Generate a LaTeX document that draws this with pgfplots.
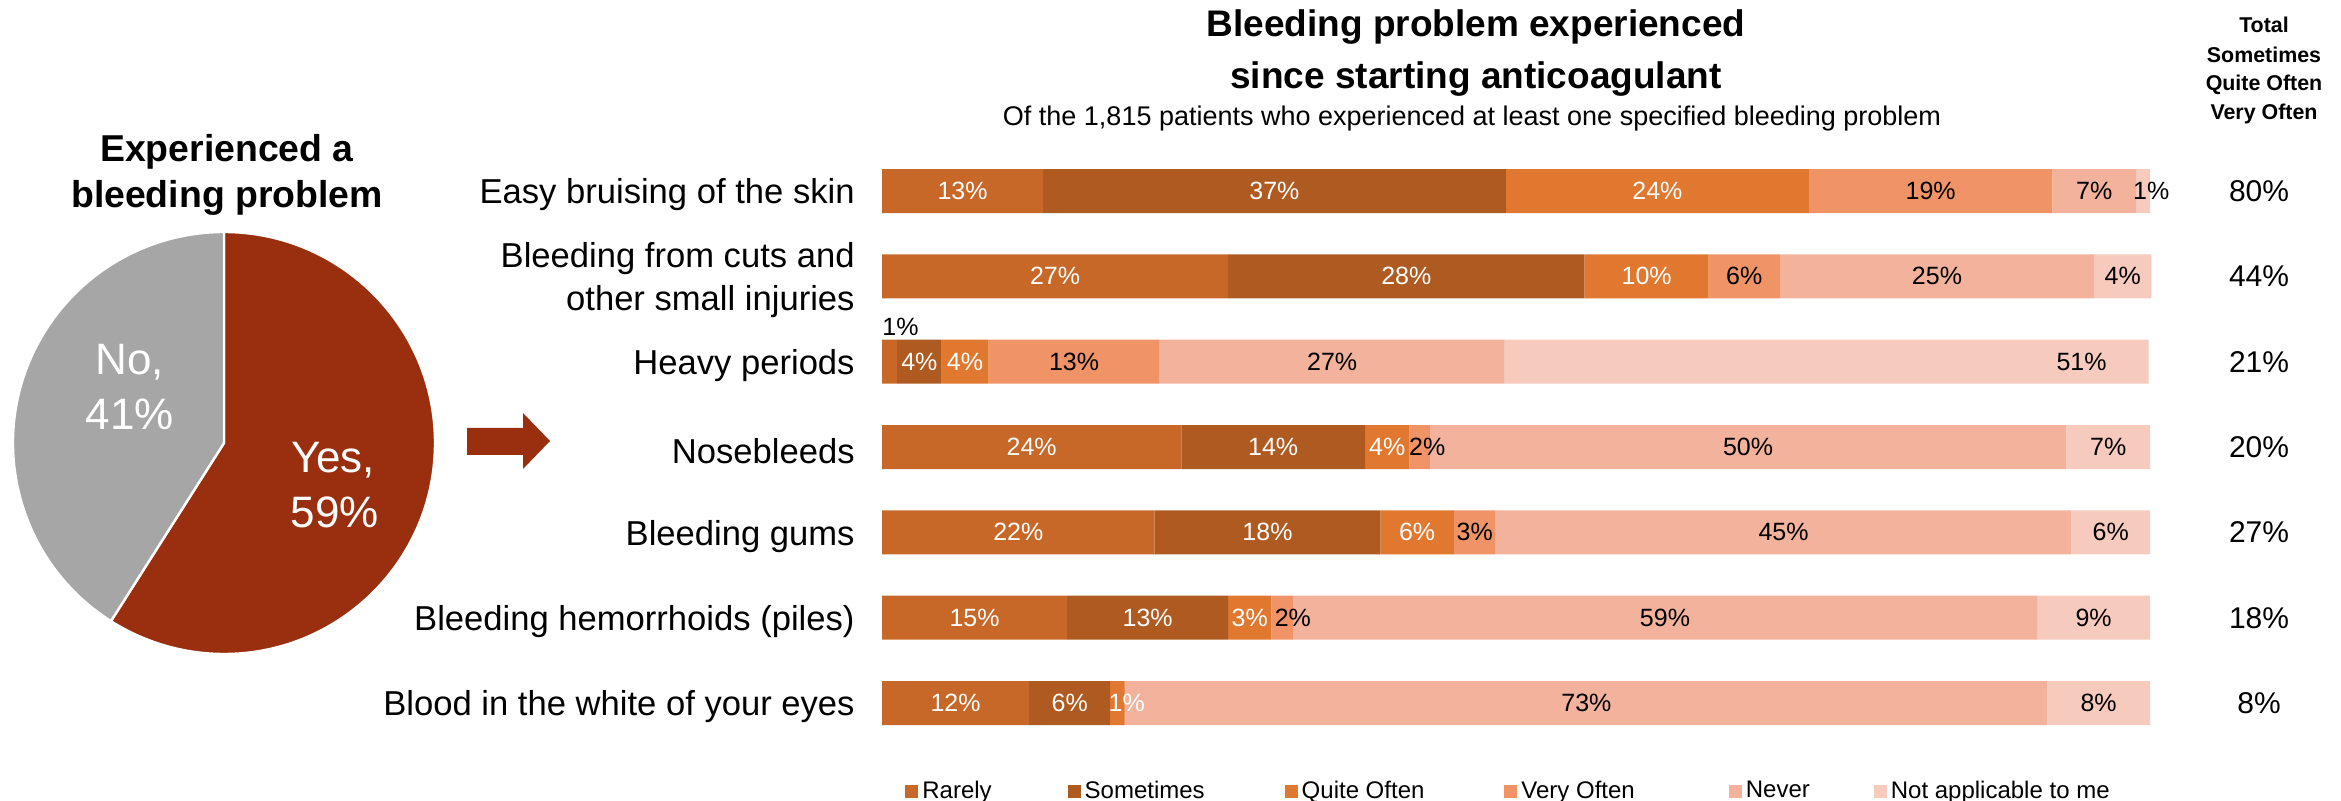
\documentclass[border=0pt]{standalone}
\usepackage{pgfplots}
\pgfplotsset{compat=1.18}
\usepackage{fontspec}
\setmainfont{Liberation Sans}
\definecolor{cRarely}{RGB}{200,104,40}
\definecolor{cSome}{RGB}{175,90,32}
\definecolor{cQuite}{RGB}{224,120,48}
\definecolor{cVery}{RGB}{240,148,104}
\definecolor{cNever}{RGB}{242,178,156}
\definecolor{cNA}{RGB}{246,203,190}
\definecolor{cYes}{RGB}{154,47,15}
\definecolor{cNo}{RGB}{166,166,166}
\newcommand{\fs}[1]{\fontsize{#1}{#1}\selectfont}
\pgfplotsset{barframe/.style={at={(441pt,-74.17pt)}, anchor=north west, scale only axis,
  width=634pt, height=298.67pt,
  xmin=0, xmax=100, ymin=0.5, ymax=7.5, y dir=reverse,
  axis line style={draw=none}, major tick length=0pt, clip=false}}
\begin{document}
\begin{tikzpicture}
\useasboundingbox (0pt,0pt) rectangle (1170.5pt,-400.5pt);
% ---------- pie ----------
\def\yesval{59}
\def\noval{41}
\begin{axis}[at={(112pt,-221.5pt)}, anchor=center, scale only axis,
  width=211pt, height=211pt, xmin=-1, xmax=1, ymin=-1, ymax=1,
  hide axis, clip=false]
\filldraw[fill=cYes, draw=white, line width=1.2pt] (axis cs:0,0) -- ++(90:105.5pt)
  arc[start angle=90, delta angle={-3.6*\yesval}, radius=105.5pt] -- cycle;
\filldraw[fill=cNo, draw=white, line width=1.2pt] (axis cs:0,0) -- ++({90-3.6*\yesval}:105.5pt)
  arc[start angle={90-3.6*\yesval}, delta angle={-3.6*\noval}, radius=105.5pt] -- cycle;
\end{axis}
\node[anchor=base, inner sep=0pt, font=\fs{18.7}\bfseries] at (113.5pt,-81pt) {Experienced a};
\node[anchor=base, inner sep=0pt, font=\fs{18.7}\bfseries] at (113.5pt,-103.75pt) {bleeding problem};
\node[anchor=base, inner sep=0pt, font=\fs{22}, text=white] at (65pt,-187.5pt) {No,};
\node[anchor=base, inner sep=0pt, font=\fs{22}, text=white] at (65pt,-215pt) {41\%};
\node[anchor=base, inner sep=0pt, font=\fs{22}, text=white] at (166.5pt,-236.5pt) {Yes,};
\node[anchor=base, inner sep=0pt, font=\fs{22}, text=white] at (167.5pt,-264pt) {59\%};
% arrow
\fill[cYes] (233.5pt,-214pt) -- (261.5pt,-214pt) -- (261.5pt,-206.5pt) -- (275pt,-220.5pt)
  -- (261.5pt,-234.5pt) -- (261.5pt,-227.5pt) -- (233.5pt,-227.5pt) -- cycle;
% titles
\node[anchor=base, inner sep=0pt, font=\fs{18.5}\bfseries] at (738pt,-18.4pt) {Bleeding problem experienced};
\node[anchor=base, inner sep=0pt, font=\fs{18.5}\bfseries] at (738pt,-44.5pt) {since starting anticoagulant};
\node[anchor=base, inner sep=0pt, font=\fs{13.5}] at (736pt,-63pt) {Of the 1,815 patients who experienced at least one specified bleeding problem};
\node[anchor=base, inner sep=0pt, font=\fs{10.7}\bfseries] at (1132pt,-16.5pt) {Total};
\node[anchor=base, inner sep=0pt, font=\fs{10.7}\bfseries] at (1132pt,-31.5pt) {Sometimes};
\node[anchor=base, inner sep=0pt, font=\fs{10.7}\bfseries] at (1132pt,-45.5pt) {Quite Often};
\node[anchor=base, inner sep=0pt, font=\fs{10.7}\bfseries] at (1132pt,-60pt) {Very Often};
% ---------- bars ----------
\begin{axis}[barframe,
  xbar stacked, bar width=22pt,
  xtick=\empty, ytick={1,2,3,4,5,6,7},
  yticklabels={Easy bruising of the skin, {Bleeding from cuts and\\other small injuries}, Heavy periods, Nosebleeds, Bleeding gums, Bleeding hemorrhoids (piles), Blood in the white of your eyes},
  yticklabel style={align=right, font=\fontsize{17.3}{21.5}\selectfont, inner sep=0pt, xshift=-13.5pt, yshift=-2pt},
  legend columns=6,
  legend image code/.code={\fill[#1] (0pt,-3.25pt) rectangle (6.5pt,3.25pt);},
  legend style={draw=none, fill=none, at={(0.0181,-0.076)}, anchor=west,
     font=\fs{12}, inner sep=0pt, cells={anchor=west},
     /tikz/column 2/.style={column sep=36pt},
     /tikz/column 4/.style={column sep=38pt},
     /tikz/column 6/.style={column sep=38pt},
     /tikz/column 8/.style={column sep=45pt},
     /tikz/column 10/.style={column sep=30pt}},
]
\addplot[fill=cRarely, draw=none] coordinates {(12.7,1) (27.3,2) (1.2,3) (23.6,4) (21.5,5) (14.6,6) (11.6,7)};
\addlegendentry{Rarely}
\addplot[fill=cSome, draw=none] coordinates {(36.5,1) (28.1,2) (3.5,3) (14.5,4) (17.8,5) (12.7,6) (6.4,7)};
\addlegendentry{Sometimes}
\addplot[fill=cQuite, draw=none] coordinates {(23.9,1) (9.8,2) (3.7,3) (3.5,4) (5.8,5) (3.4,6) (1.1,7)};
\addlegendentry{Quite Often}
\addplot[fill=cVery, draw=none] coordinates {(19.2,1) (5.6,2) (13.5,3) (1.6,4) (3.3,5) (1.7,6) (0.1,7)};
\addlegendentry{Very Often}
\addplot[fill=cNever, draw=none] coordinates {(6.6,1) (24.8,2) (27.2,3) (50.2,4) (45.4,5) (58.7,6) (72.7,7)};
\addlegendentry{Never}
\addplot[fill=cNA, draw=none] coordinates {(1.1,1) (4.5,2) (50.8,3) (6.6,4) (6.2,5) (8.9,6) (8.1,7)};
\addlegendentry{Not applicable to me}
\end{axis}
% ---------- segment labels (centres of the segments) ----------
\begin{axis}[barframe, hide axis,
  point meta=explicit symbolic, nodes near coords,
  every node near coord/.append style={font=\fs{12.5}, anchor=center, inner sep=0pt, yshift=0pt}]
\addplot[draw=none, mark=none, every node near coord/.append style={text=white}] coordinates
 {(6.35,1)[13\%] (13.65,2)[27\%] (11.8,4)[24\%] (10.75,5)[22\%] (7.3,6)[15\%] (5.8,7)[12\%]};
\addplot[draw=none, mark=none, every node near coord/.append style={text=white}] coordinates
 {(30.95,1)[37\%] (41.35,2)[28\%] (2.95,3)[4\%] (30.85,4)[14\%] (30.4,5)[18\%] (20.95,6)[13\%] (14.8,7)[6\%]};
\addplot[draw=none, mark=none, every node near coord/.append style={text=white}] coordinates
 {(61.15,1)[24\%] (60.3,2)[10\%] (6.55,3)[4\%] (39.85,4)[4\%] (42.2,5)[6\%] (29.0,6)[3\%] (19.3,7)[1\%]};
\addplot[draw=none, mark=none, every node near coord/.append style={text=black}] coordinates
 {(82.7,1)[19\%] (68.0,2)[6\%] (15.15,3)[13\%] (43.0,4)[2\%] (46.75,5)[3\%] (32.4,6)[2\%]};
\addplot[draw=none, mark=none, every node near coord/.append style={text=black}] coordinates
 {(95.6,1)[7\%] (83.2,2)[25\%] (35.5,3)[27\%] (68.3,4)[50\%] (71.1,5)[45\%] (61.75,6)[59\%] (55.55,7)[73\%]};
\addplot[draw=none, mark=none, every node near coord/.append style={text=black}] coordinates
 {(100.1,1)[1\%] (97.85,2)[4\%] (94.6,3)[51\%] (96.7,4)[7\%] (96.9,5)[6\%] (95.55,6)[9\%] (95.95,7)[8\%]};
% Rarely share of heavy periods, written above its bar
\addplot[draw=none, mark=none, every node near coord/.append style={text=black, anchor=south west, yshift=13pt}] coordinates
 {(0,3)[1\%]};
% totals: sometimes + quite often + very often
\addplot[draw=none, mark=none, every node near coord/.append style={text=black, font=\fs{15}}] coordinates
 {(108.6,1)[80\%] (108.6,2)[44\%] (108.6,3)[21\%] (108.6,4)[20\%] (108.6,5)[27\%] (108.6,6)[18\%] (108.6,7)[8\%]};
\end{axis}
\end{tikzpicture}
\end{document}
